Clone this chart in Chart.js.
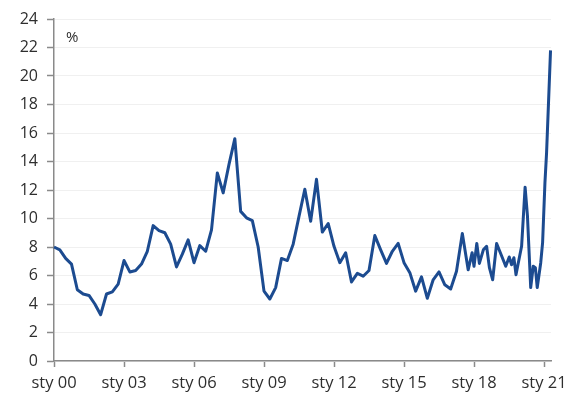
<!DOCTYPE html>
<html>
<head>
<meta charset="utf-8">
<script src="https://cdn.jsdelivr.net/npm/chart.js@4/dist/chart.umd.min.js"></script>
<style>
html,body{margin:0;padding:0;background:#fff;}
canvas{display:block;}
</style>
</head>
<body>
<canvas id="c" width="580" height="414"></canvas>
<script>
// Years since Jan 2000 (x) and values in % (y)
const years = [
  0.00,0.25,0.50,0.75,1.00,1.25,1.50,1.75,2.00,2.25,2.50,2.75,
  3.00,3.25,3.50,3.75,4.00,4.25,4.50,4.75,5.00,5.25,5.50,5.75,
  6.00,6.25,6.50,6.75,7.00,7.25,7.50,7.75,8.00,8.25,8.50,8.75,
  9.00,9.25,9.50,9.75,10.00,10.25,10.50,10.75,11.00,11.25,11.50,11.75,
  12.00,12.25,12.50,12.75,13.00,13.25,13.50,13.75,14.00,14.25,14.50,14.75,
  15.00,15.25,15.50,15.75,16.00,16.25,16.50,16.75,17.00,17.25,17.50,17.75,
  17.92,18.00,18.12,18.23,18.40,18.54,18.66,18.80,18.97,19.19,19.36,19.51,
  19.61,19.71,19.80,19.90,20.04,20.19,20.29,20.43,20.54,20.63,20.71,20.86,
  20.94,21.04,21.11,21.28
];
const rates = [
  8.0,7.8,7.2,6.8,5.0,4.7,4.6,4.0,3.25,4.7,4.85,5.4,
  7.05,6.25,6.35,6.8,7.7,9.5,9.15,9.0,8.2,6.6,7.5,8.5,
  6.9,8.1,7.7,9.2,13.2,11.8,13.8,15.6,10.5,10.05,9.85,8.0,
  4.9,4.35,5.15,7.2,7.05,8.2,10.15,12.05,9.8,12.75,9.05,9.65,
  8.05,6.9,7.6,5.55,6.15,5.95,6.35,8.8,7.8,6.85,7.7,8.25,
  6.9,6.2,4.9,5.9,4.4,5.7,6.25,5.35,5.05,6.3,8.95,6.4,
  7.6,6.65,8.25,6.85,7.8,8.05,6.55,5.7,8.25,7.35,6.65,7.3,
  6.75,7.25,6.05,6.9,8.05,12.2,10.2,5.15,6.65,6.55,5.15,6.9,
  8.3,12.5,14.6,21.8
];
const xTickValues = [0,3,6,9,12,15,18,21];
const xTickLabels = ["sty 00","sty 03","sty 06","sty 09","sty 12","sty 15","sty 18","sty 21"];
const unitLabel = "%";

const FONT = "'Open Sans', sans-serif";
const TEXT = "#2e2e2e";
const AXIS = "#8a8a8a";

const unitPlugin = {
  id: 'unitLabel',
  afterDraw(chart) {
    const ctx = chart.ctx;
    ctx.save();
    ctx.font = "15px " + FONT;
    ctx.fillStyle = TEXT;
    ctx.textBaseline = "middle";
    ctx.textAlign = "left";
    ctx.fillText(unitLabel, 66, 38);
    ctx.restore();
  }
};

new Chart(document.getElementById('c'), {
  type: 'line',
  data: {
    datasets: [{
      data: years.map((x, i) => ({x: x, y: rates[i]})),
      borderColor: '#1c4b90',
      borderWidth: 3,
      pointRadius: 0,
      tension: 0,
      fill: false,
      borderJoinStyle: 'round',
      clip: false
    }]
  },
  options: {
    responsive: false,
    animation: false,
    layout: { padding: { top: 19, right: 29, left: 0, bottom: 0 } },
    plugins: { legend: { display: false }, tooltip: { enabled: false } },
    scales: {
      x: {
        type: 'linear',
        min: 0,
        max: 21.3,
        afterFit(scale) { scale.height = 53; },
        afterBuildTicks(scale) { scale.ticks = xTickValues.map(v => ({value: v})); },
        ticks: {
          autoSkip: false,
          maxRotation: 0,
          padding: 6,
          color: TEXT,
          font: { family: FONT, size: 16.5 },
          callback: (v) => xTickLabels[xTickValues.indexOf(v)]
        },
        grid: { drawOnChartArea: false, drawTicks: true, tickLength: 6, tickColor: AXIS, tickWidth: 1.5 },
        border: { color: AXIS, width: 1.5 }
      },
      y: {
        min: 0,
        max: 24,
        afterFit(scale) { scale.width = 54; },
        ticks: {
          stepSize: 2,
          padding: 9,
          color: TEXT,
          font: { family: FONT, size: 16 }
        },
        grid: { color: '#f0f0f0', lineWidth: 1, drawTicks: true, tickLength: 7, tickColor: AXIS, tickWidth: 1.5 },
        border: { color: AXIS, width: 1.5 }
      }
    }
  },
  plugins: [unitPlugin]
});
</script>
</body>
</html>
